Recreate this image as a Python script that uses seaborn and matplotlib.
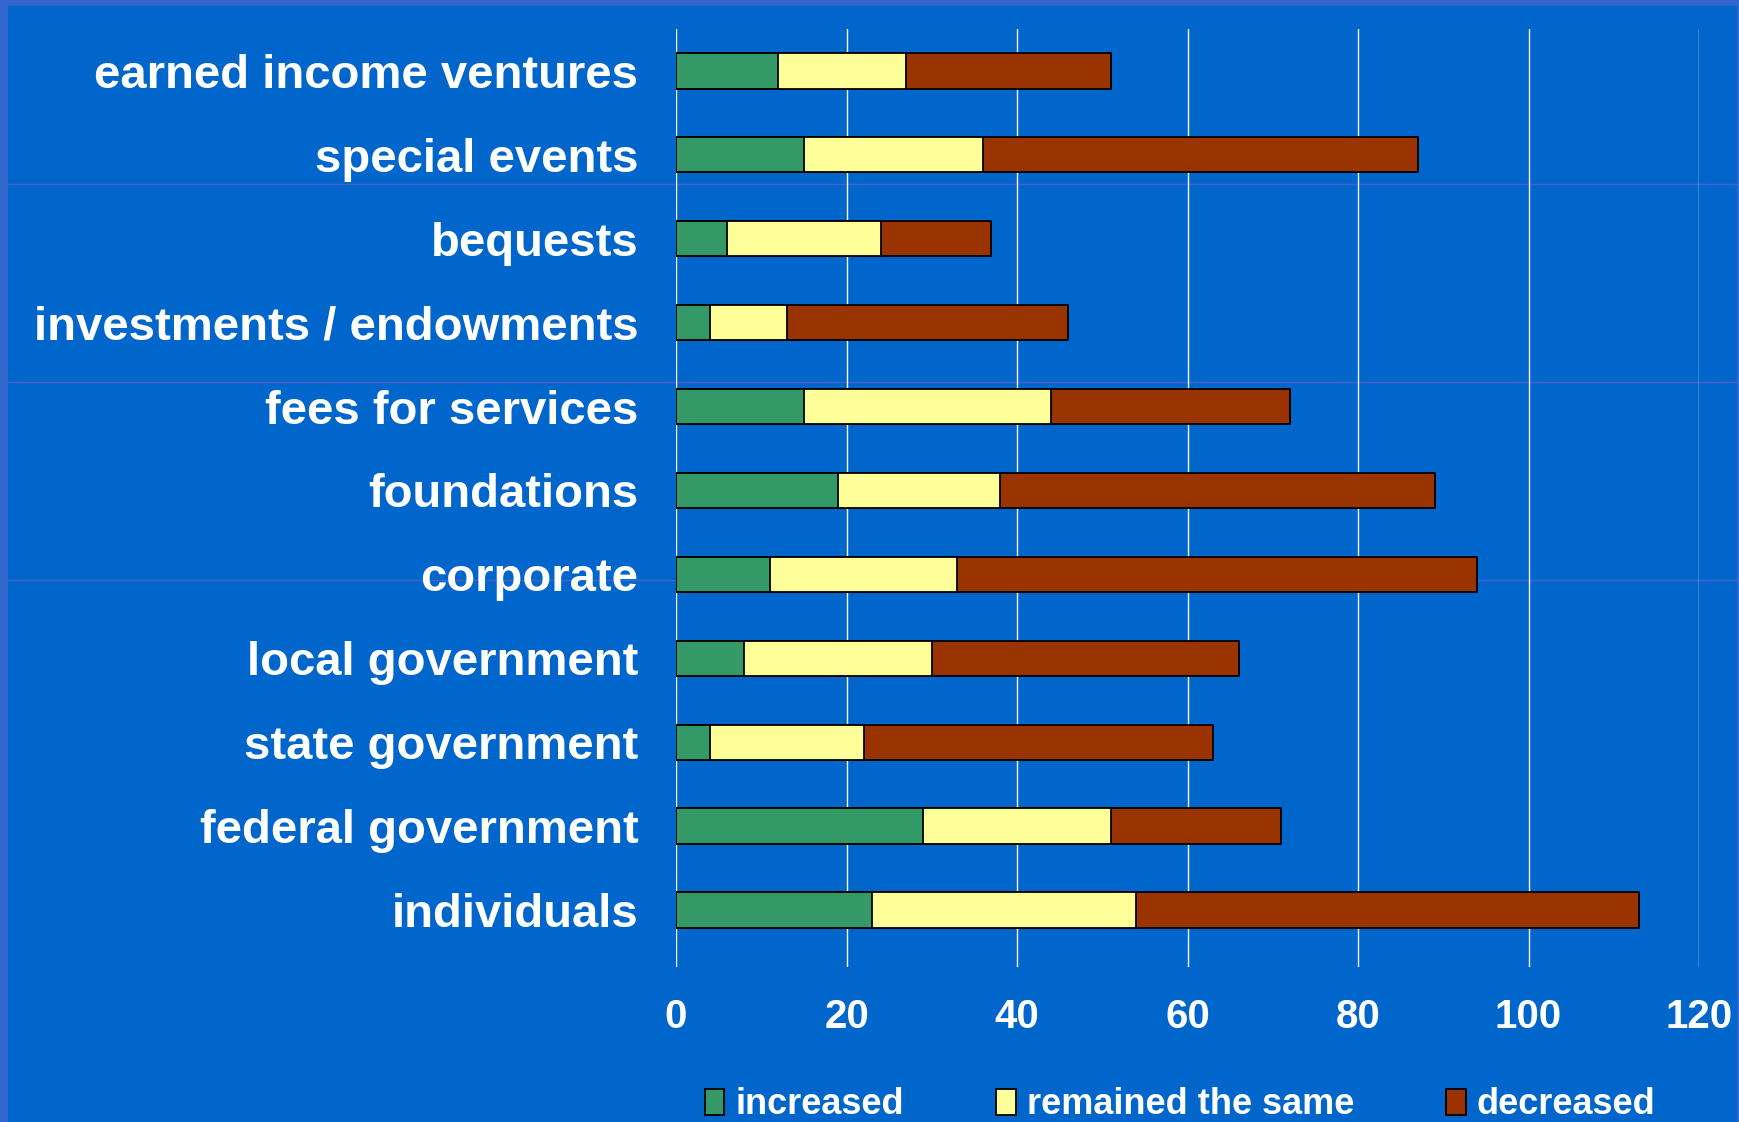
import matplotlib
matplotlib.use("Agg")
import matplotlib.pyplot as plt
from matplotlib.patches import Rectangle, Patch
from matplotlib.lines import Line2D
import numpy as np
import pandas as pd
import seaborn as sns

# Funding sources and the number of responses in each direction
categories = [
    "earned income ventures",
    "special events",
    "bequests",
    "investments / endowments",
    "fees for services",
    "foundations",
    "corporate",
    "local government",
    "state government",
    "federal government",
    "individuals",
]
increased = [12, 15, 6, 4, 15, 19, 11, 8, 4, 29, 23]
remained_same = [15, 21, 18, 9, 29, 19, 22, 22, 18, 22, 31]
decreased = [24, 51, 13, 33, 28, 51, 61, 36, 41, 20, 59]

series_names = ["increased", "remained the same", "decreased"]
series_colors = ["#339966", "#FFFF99", "#993300"]
x_ticks = [0, 20, 40, 60, 80, 100, 120]

BG = "#0066CC"
BORDER = "#3366CC"

df = pd.DataFrame({
    "source": categories,
    "increased": increased,
    "remained the same": remained_same,
    "decreased": decreased,
})
# Cumulative right edges for the stacked segments
df["edge_inc"] = df["increased"]
df["edge_same"] = df["edge_inc"] + df["remained the same"]
df["edge_dec"] = df["edge_same"] + df["decreased"]

sns.set_theme(style="white")
plt.rcParams["font.family"] = ["Liberation Sans", "DejaVu Sans"]
plt.rcParams["font.weight"] = "bold"

W, H = 1739, 1122
fig = plt.figure(figsize=(W / 100, H / 100), dpi=100)
fig.patch.set_facecolor(BORDER)
# Inner slide panel
fig.patches.append(Rectangle((8 / W, 0), (W - 10) / W, (H - 6) / H,
                             transform=fig.transFigure, facecolor=BG,
                             edgecolor="none", zorder=-2))
# Faint horizontal rules across the slide
for yy in (184, 382, 580):
    fig.lines.append(Line2D([8 / W, 1 - 2 / W], [1 - yy / H, 1 - yy / H],
                            transform=fig.transFigure, color="#4a62c8",
                            lw=1.0, zorder=-1))

ax = fig.add_axes([676 / W, 1 - 967 / H, (1699 - 676) / W, (967 - 29) / H])
ax.set_zorder(2)
ax.set_facecolor("none")

# Stacked bars: draw the full totals first, then overlay the shorter cumulative parts
for col, color in zip(["edge_dec", "edge_same", "edge_inc"], series_colors[::-1]):
    sns.barplot(data=df, x=col, y="source", order=categories, orient="h",
                color=color, saturation=1, width=0.42, edgecolor="black",
                linewidth=1.3, ax=ax, zorder=3)

ax.set_xlim(0, 120)
ax.set_ylim(10.68, -0.5)
ax.set_xticks(x_ticks)
ax.set_xticklabels([str(t) for t in x_ticks])
ax.set_xlabel("")
ax.set_ylabel("")
ax.set_axisbelow(True)
ax.grid(axis="x", color="white", lw=1.0)
ax.grid(axis="y", visible=False)
for s in ax.spines.values():
    s.set_visible(False)
ax.tick_params(axis="x", length=0, pad=22, labelsize=29, labelcolor="white")
ax.tick_params(axis="y", length=0, pad=27, labelsize=34, labelcolor="white")
for lab in ax.get_xticklabels() + ax.get_yticklabels():
    lab.set_fontweight("bold")

handles = [Patch(facecolor=c, edgecolor="black", linewidth=1.3, label=n)
           for n, c in zip(series_names, series_colors)]
leg = fig.legend(handles=handles, loc="center", ncol=3,
                 bbox_to_anchor=(1180 / W, 1 - 1105 / H), frameon=False,
                 fontsize=26, handlelength=0.55, handleheight=0.7,
                 handletextpad=0.3, columnspacing=2.55, borderpad=0)
for t in leg.get_texts():
    t.set_color("white")
    t.set_fontweight("bold")

fig.savefig("out.png", dpi=100, facecolor=fig.get_facecolor())
